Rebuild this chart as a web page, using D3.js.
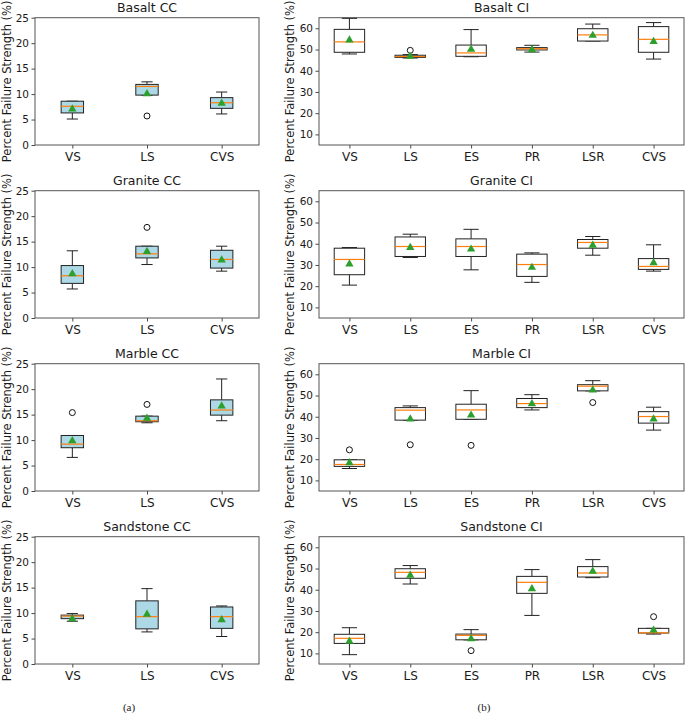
<!DOCTYPE html>
<html><head><meta charset="utf-8">
<script src="https://cdn.jsdelivr.net/npm/d3@7"></script>
<style>body{margin:0;background:#fff}svg{display:block}</style>
</head><body>
<svg id="c" width="685" height="714"></svg>
<script>
// Categories
const ccCats = ["VS", "LS", "CVS"];
const ciCats = ["VS", "LS", "ES", "PR", "LSR", "CVS"];
const ccTicks = [0, 5, 10, 15, 20, 25];
const ciTicks = [10, 20, 30, 40, 50, 60];
const ccDomain = [0, 25];
const ciDomain = [5, 65];

// Each row: [whiskerLow, Q1, median, Q3, whiskerHigh, mean, outliers]
const basaltCC = [
  [5.1, 6.3, 7.6, 8.6, 8.6, 7.3, []],
  [9.8, 9.8, 11.5, 11.9, 12.4, 10.3, [5.7]],
  [6.1, 7.2, 8.3, 9.3, 10.4, 8.4, []]
];
const basaltCI = [
  [47.9, 48.7, 53.6, 59.5, 64.7, 55.0, []],
  [46.0, 46.3, 46.7, 47.3, 47.6, 47.3, [49.6]],
  [46.6, 46.8, 48.4, 52.1, 59.4, 50.7, []],
  [48.8, 49.8, 50.4, 50.9, 52.0, 50.4, []],
  [54.0, 54.0, 56.9, 59.8, 62.0, 57.2, []],
  [45.5, 48.7, 54.8, 60.8, 62.7, 54.3, []]
];
const graniteCC = [
  [5.7, 6.8, 8.3, 10.3, 13.2, 8.9, []],
  [10.5, 11.8, 12.6, 14.1, 14.1, 13.3, [17.8]],
  [9.2, 9.8, 11.5, 13.3, 14.1, 11.6, []]
];
const graniteCI = [
  [20.5, 25.4, 32.6, 37.9, 38.2, 31.0, []],
  [33.5, 34.0, 38.7, 43.2, 44.5, 38.8, []],
  [27.7, 34.0, 38.7, 42.3, 46.8, 38.0, []],
  [21.8, 24.6, 30.2, 35.1, 35.7, 29.4, []],
  [34.6, 37.9, 40.6, 42.0, 43.4, 39.8, []],
  [27.1, 27.9, 29.3, 33.0, 39.5, 31.6, []]
];
const marbleCC = [
  [6.6, 8.5, 9.2, 10.9, 10.9, 10.1, [15.4]],
  [13.4, 13.6, 13.8, 14.7, 14.7, 14.5, [17.0]],
  [13.8, 14.9, 15.9, 17.9, 22.0, 16.9, []]
];
const marbleCI = [
  [15.6, 16.6, 17.5, 19.7, 19.7, 18.8, [24.4]],
  [38.4, 38.4, 43.1, 44.3, 45.1, 39.5, [26.8]],
  [38.8, 38.8, 43.2, 45.9, 52.3, 41.3, [26.5]],
  [43.2, 44.3, 46.2, 48.6, 50.4, 46.7, []],
  [52.2, 52.2, 54.4, 55.1, 57.0, 53.1, [46.7]],
  [33.7, 37.0, 40.1, 42.4, 44.5, 39.5, []]
];
const sandstoneCC = [
  [8.4, 8.9, 9.4, 9.6, 9.9, 9.1, []],
  [6.3, 6.9, 9.3, 12.4, 14.8, 10.0, []],
  [5.4, 7.0, 9.3, 11.2, 11.4, 8.9, []]
];
const sandstoneCI = [
  [9.4, 14.7, 17.1, 19.0, 22.1, 16.3, []],
  [42.7, 45.4, 48.2, 49.9, 51.4, 47.4, []],
  [16.4, 16.4, 18.5, 19.1, 21.2, 17.4, [11.3]],
  [27.9, 38.3, 43.5, 46.3, 49.5, 41.0, []],
  [45.7, 46.0, 47.9, 50.9, 54.2, 49.2, []],
  [19.1, 19.6, 19.7, 21.8, 21.8, 21.5, [27.3]]
];
const rowTitles = [["Basalt CC", "Basalt CI"], ["Granite CC", "Granite CI"], ["Marble CC", "Marble CI"], ["Sandstone CC", "Sandstone CI"]];
const rowData = [[basaltCC, basaltCI], [graniteCC, graniteCI], [marbleCC, marbleCI], [sandstoneCC, sandstoneCI]];
const yLabel = "Percent Failure Strength (%)";
const subLabels = ["(a)", "(b)"];

const svg = d3.select("#c");
const FONT = "DejaVu Sans, sans-serif";
const cols = [
  {x0: 35, x1: 259, cats: ccCats, ticks: ccTicks, domain: ccDomain, fill: "#add8e6", wFrac: 0.3, labelX: 7},
  {x0: 319, x1: 684, cats: ciCats, ticks: ciTicks, domain: ciDomain, fill: "#ffffff", wFrac: 0.5, labelX: 290}
];
const rowTop0 = 17.7, rowStep = 173, plotH = 127.3;

rowData.forEach((pair, r) => {
  const top = rowTop0 + r * rowStep, bot = top + plotH;
  pair.forEach((data, c) => {
    const col = cols[c];
    const x = d3.scaleLinear().domain([0.5, col.cats.length + 0.5]).range([col.x0, col.x1]);
    const y = d3.scaleLinear().domain(col.domain).range([bot, top]);
    const g = svg.append("g");
    const unit = x(2) - x(1);
    const bw = col.wFrac * unit, cw = bw / 2;

    // axes
    const yAxis = d3.axisLeft(y).tickValues(col.ticks).tickSize(3.5).tickPadding(2.5);
    const ya = g.append("g").attr("transform", `translate(${col.x0},0)`).call(yAxis);
    const xAxis = d3.axisBottom(x).tickValues(d3.range(1, col.cats.length + 1)).tickFormat((d) => col.cats[d - 1]).tickSize(3.5).tickPadding(3.5);
    const xa = g.append("g").attr("transform", `translate(0,${bot})`).call(xAxis);
    [ya, xa].forEach(a => {
      a.select(".domain").remove();
      a.selectAll("line").attr("stroke", "#333").attr("stroke-width", 0.9);
      a.selectAll("text").attr("fill", "#1a1a1a").style("font-family", FONT);
    });
    ya.selectAll("text").style("font-size", "10.5px");
    xa.selectAll("text").style("font-size", "12px");

    // frame
    g.append("rect").attr("x", col.x0).attr("y", top).attr("width", col.x1 - col.x0).attr("height", plotH)
      .attr("fill", "none").attr("stroke", "#555").attr("stroke-width", 1);

    // boxes
    data.forEach((d, i) => {
      const cx = x(i + 1);
      const [lo, q1, med, q3, hi, mean, outs] = d;
      const bg = g.append("g");
      bg.append("line").attr("x1", cx).attr("x2", cx).attr("y1", y(q1)).attr("y2", y(lo)).attr("stroke", "#222");
      bg.append("line").attr("x1", cx).attr("x2", cx).attr("y1", y(q3)).attr("y2", y(hi)).attr("stroke", "#222");
      bg.append("line").attr("x1", cx - cw / 2).attr("x2", cx + cw / 2).attr("y1", y(lo)).attr("y2", y(lo)).attr("stroke", "#222");
      bg.append("line").attr("x1", cx - cw / 2).attr("x2", cx + cw / 2).attr("y1", y(hi)).attr("y2", y(hi)).attr("stroke", "#222");
      bg.append("rect").attr("x", cx - bw / 2).attr("y", y(q3)).attr("width", bw).attr("height", Math.max(0.5, y(q1) - y(q3)))
        .attr("fill", col.fill).attr("stroke", "#222").attr("stroke-width", 1);
      bg.append("line").attr("x1", cx - bw / 2).attr("x2", cx + bw / 2).attr("y1", y(med)).attr("y2", y(med))
        .attr("stroke", "#ff7f0e").attr("stroke-width", 1.2);
      outs.forEach(o => {
        bg.append("circle").attr("cx", cx).attr("cy", y(o)).attr("r", 3).attr("fill", "none").attr("stroke", "#111").attr("stroke-width", 1);
      });
      bg.append("path").attr("d", d3.symbol(d3.symbolTriangle, 30)()).attr("transform", `translate(${cx},${y(mean) + 1.2})`)
        .attr("fill", "#2ca02c");
    });

    // title
    svg.append("text").attr("x", (col.x0 + col.x1) / 2).attr("y", top - 5.5).attr("text-anchor", "middle")
      .style("font-family", FONT).style("font-size", "12.5px").attr("fill", "#1a1a1a").text(rowTitles[r][c]);
    // y label
    svg.append("text").attr("transform", `translate(${col.labelX},${(top + bot) / 2}) rotate(-90)`)
      .attr("text-anchor", "middle").attr("dominant-baseline", "central")
      .style("font-family", FONT).style("font-size", "11.5px").attr("fill", "#1a1a1a").text(yLabel);
  });
});

// sub-figure labels
svg.append("text").attr("x", 129).attr("y", 711).attr("text-anchor", "middle")
  .style("font-family", "Liberation Serif, Times New Roman, serif").style("font-size", "11px").attr("fill", "#222").text(subLabels[0]);
svg.append("text").attr("x", 484).attr("y", 711).attr("text-anchor", "middle")
  .style("font-family", "Liberation Serif, Times New Roman, serif").style("font-size", "11px").attr("fill", "#222").text(subLabels[1]);
</script>
</body></html>
